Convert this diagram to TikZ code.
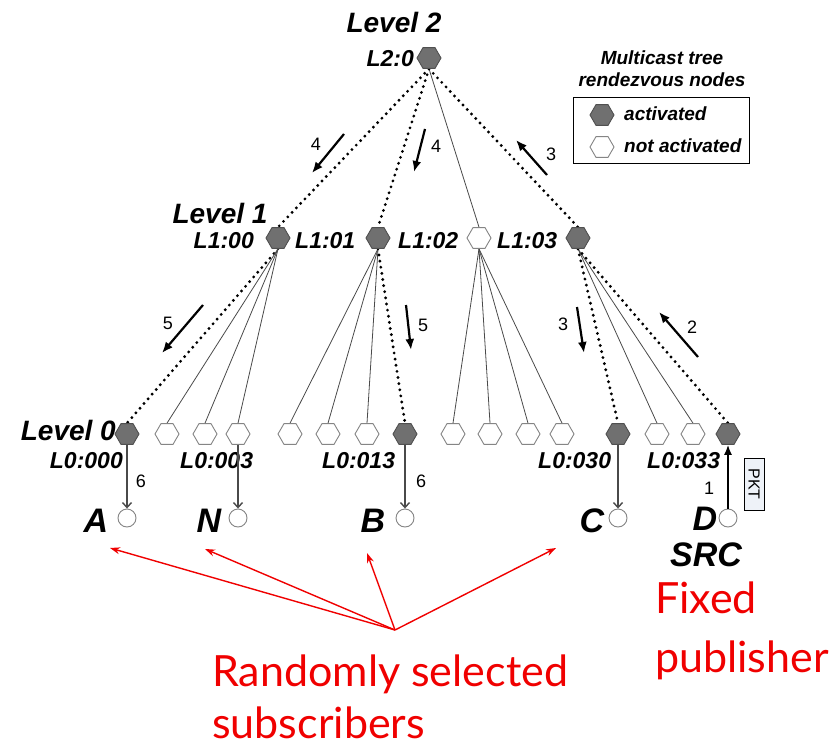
\documentclass[tikz,border=0pt]{standalone}
\usepackage{fontspec}
\setmainfont{Liberation Sans}
\newfontfamily\notefont{Lato}
\usetikzlibrary{shapes.geometric,arrows.meta,backgrounds}

\definecolor{hexfill}{HTML}{707070}
\definecolor{hexedge}{HTML}{505050}
\definecolor{hexline}{HTML}{858585}
\definecolor{edgegrey}{HTML}{4A4A4A}
\definecolor{notered}{HTML}{F00000}
\definecolor{pktfill}{HTML}{EEF2F8}

\tikzset{
  hexbase/.style={regular polygon, regular polygon sides=6, minimum size=24pt,
    inner sep=0pt, line width=0.9pt},
  hexon/.style={hexbase, fill=hexfill, draw=hexedge},
  hexoff/.style={hexbase, fill=white, draw=hexline},
  subnode/.style={circle, minimum size=18pt, inner sep=0pt, fill=white,
    draw=hexline, line width=0.9pt},
  lbl/.style={font=\fontsize{23}{23}\selectfont\bfseries\itshape, inner sep=0pt},
  lvl/.style={font=\fontsize{28}{28}\selectfont\bfseries\itshape, inner sep=0pt},
  bigletter/.style={font=\fontsize{34}{34}\selectfont\bfseries\itshape, inner sep=0pt},
  legtext/.style={font=\fontsize{19}{19}\selectfont\bfseries\itshape, inner sep=0pt},
  num/.style={font=\fontsize{18}{18}\selectfont, inner sep=0pt},
  dotline/.style={line width=3.2pt, dash pattern=on 0pt off 6.2pt, line cap=round},
  thinline/.style={draw=edgegrey, line width=0.8pt},
  flow/.style={line width=2.2pt, -{Latex[length=11pt,width=9pt]}},
  deliver/.style={draw=edgegrey, line width=1.4pt, -{Straight Barb[length=5pt,width=9pt]}},
  note/.style={font=\notefont\fontsize{43}{43}\selectfont, text=notered, inner sep=0pt},
  notearrow/.style={draw=notered, line width=1.4pt, -{Stealth[length=10pt,width=7pt]}},
}

\begin{document}
\begin{tikzpicture}[x=1pt,y=-1pt]
\useasboundingbox (0,0) rectangle (829,746);

% ---- rendezvous nodes ----
\node[hexon] (l2) at (429,58) {};

\node[hexon]  (l1a) at (278,238) {};
\node[hexon]  (l1b) at (378,238) {};
\node[hexoff] (l1c) at (479,238) {};
\node[hexon]  (l1d) at (578,238) {};

% level 0, four groups of four
\node[hexon]  (a1) at (127,434) {};
\node[hexoff] (a2) at (167,434) {};
\node[hexoff] (a3) at (205,434) {};
\node[hexoff] (a4) at (238,434) {};
\node[hexoff] (b1) at (290,434) {};
\node[hexoff] (b2) at (328,434) {};
\node[hexoff] (b3) at (367,434) {};
\node[hexon]  (b4) at (405,434) {};
\node[hexoff] (c1) at (453,434) {};
\node[hexoff] (c2) at (490,434) {};
\node[hexoff] (c3) at (528,434) {};
\node[hexoff] (c4) at (562,434) {};
\node[hexon]  (d1) at (618,434) {};
\node[hexoff] (d2) at (657,434) {};
\node[hexoff] (d3) at (693,434) {};
\node[hexon]  (d4) at (728,434) {};

% ---- white page and tree edges, behind the nodes ----
\begin{pgfonlayer}{background}
  \fill[white] (0,0) rectangle (829,746);
  \draw[dotline]  (l2.south) -- (l1a.north);
  \draw[dotline]  (l2.south) -- (l1b.north);
  \draw[thinline] (l2.south) -- (l1c.north);
  \draw[dotline]  (l2.south) -- (l1d.north);

  \draw[dotline]  (l1a.south) -- (a1.north);
  \foreach \n in {a2,a3,a4} \draw[thinline] (l1a.south) -- (\n.north);
  \foreach \n in {b1,b2,b3} \draw[thinline] (l1b.south) -- (\n.north);
  \draw[dotline]  (l1b.south) -- (b4.north);
  \foreach \n in {c1,c2,c3,c4} \draw[thinline] (l1c.south) -- (\n.north);
  \draw[dotline]  (l1d.south) -- (d1.north);
  \foreach \n in {d2,d3} \draw[thinline] (l1d.south) -- (\n.north);
  \draw[dotline]  (l1d.south) -- (d4.north);
\end{pgfonlayer}

% ---- level and node labels ----
\node[lvl] (lv2) at (394,22) {Level 2};
\node[lvl] (lv1) at (220,213) {Level 1};
\node[lvl, anchor=east] (lv0) at (116,430) {Level 0};

\node[lbl, anchor=east] (n20) at (414,59) {L2:0};
\node[lbl, anchor=east] (n100) at (254,241) {L1:00};
\node[lbl, anchor=west] (n101) at (295,241) {L1:01};
\node[lbl, anchor=west] (n102) at (398,241) {L1:02};
\node[lbl, anchor=west] (n103) at (497,241) {L1:03};

\node[lbl, anchor=east] (n000) at (123,461) {L0:000};
\node[lbl, anchor=west] (n003) at (180,461) {L0:003};
\node[lbl, anchor=west] (n013) at (322,461) {L0:013};
\node[lbl, anchor=west] (n030) at (538,461) {L0:030};
\node[lbl, anchor=west] (n033) at (647,461) {L0:033};

% ---- subscribers and publisher ----
\node[subnode] (sA) at (127,518) {};
\node[subnode] (sN) at (238,518) {};
\node[subnode] (sB) at (405,518) {};
\node[subnode] (sC) at (618,518) {};
\node[subnode] (sD) at (728,518) {};

\node[bigletter] (tA) at (96,521) {A};
\node[bigletter] (tN) at (209,521) {N};
\node[bigletter] (tB) at (373,521) {B};
\node[bigletter] (tC) at (592,521) {C};
\node[bigletter] (tD) at (705,519) {D};
\node[bigletter] (tS) at (706,555) {SRC};

\draw[deliver] (a1.south) -- (sA.north);
\draw[deliver] (a4.south) -- (sN.north);
\draw[deliver] (b4.south) -- (sB.north);
\draw[deliver] (d1.south) -- (sC.north);
\draw[line width=1.6pt, -{Latex[length=10pt,width=8pt]}] (sD.north) -- (d4.south);

\node[num] (k6a) at (141,481) {6};
\node[num] (k6b) at (421,481) {6};
\node[num] (k1)  at (709,488) {1};

\node[draw=black, line width=0.9pt, fill=pktfill, rotate=-90,
      font=\fontsize{16}{16}\selectfont, minimum width=52pt, minimum height=20pt,
      inner sep=0pt] (pkt) at (754,484) {PKT};

% ---- flow arrows along the tree ----
\coordinate (f4as) at (344,134); \coordinate (f4ae) at (312,173);
\coordinate (f4bs) at (425,129); \coordinate (f4be) at (414,172);
\coordinate (f3as) at (547,175); \coordinate (f3ae) at (516,140);
\coordinate (f5as) at (203,305); \coordinate (f5ae) at (162,353);
\coordinate (f5bs) at (406,305); \coordinate (f5be) at (411,350);
\coordinate (f3bs) at (577,307); \coordinate (f3be) at (584,353);
\coordinate (f2s)  at (698,357); \coordinate (f2e)  at (659,312);

\draw[flow] (f4as) -- (f4ae);
\draw[flow] (f4bs) -- (f4be);
\draw[flow] (f3as) -- (f3ae);
\draw[flow] (f5as) -- (f5ae);
\draw[flow] (f5bs) -- (f5be);
\draw[flow] (f3bs) -- (f3be);
\draw[flow] (f2s)  -- (f2e);

\node[num] (k4a) at (316,144) {4};
\node[num] (k4b) at (436,146) {4};
\node[num] (k3a) at (551,154) {3};
\node[num] (k5a) at (168,323) {5};
\node[num] (k5b) at (423,325) {5};
\node[num] (k3b) at (563,324) {3};
\node[num] (k2)  at (692,327) {2};

% ---- legend ----
\node[legtext] (legt1) at (662,58) {Multicast tree};
\node[legtext] (legt2) at (662,80) {rendezvous nodes};
\node[draw=black, line width=0.9pt, minimum width=176pt, minimum height=66pt,
      inner sep=0pt] (legbox) at (661,130) {};
\node[hexon]  (legon)  at (602,115) {};
\node[hexoff] (legoff) at (602,147) {};
\node[legtext, anchor=west] (legon-t)  at (624,114) {activated};
\node[legtext, anchor=west] (legoff-t) at (624,146) {not activated};

% ---- annotations ----
\coordinate (hub) at (395,630);
\coordinate (pA) at (110,548);
\coordinate (pN) at (205,549);
\coordinate (pB) at (367,553);
\coordinate (pC) at (556,548);
\draw[notearrow] (hub) -- (pA);
\draw[notearrow] (hub) -- (pN);
\draw[notearrow] (hub) -- (pB);
\draw[notearrow] (hub) -- (pC);

\node[note, anchor=base west] (rs1) at (212,686) {Randomly selected};
\node[note, anchor=base west] (rs2) at (212,738) {subscribers};
\node[note, anchor=base west] (fp1) at (655,613) {Fixed};
\node[note, anchor=base west] (fp2) at (655,672) {publisher};
\end{tikzpicture}
\end{document}
